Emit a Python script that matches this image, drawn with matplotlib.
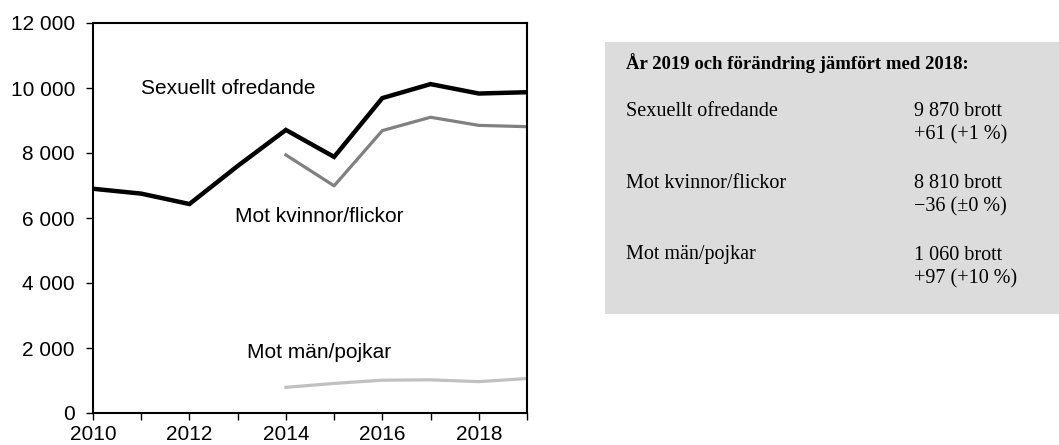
import matplotlib
matplotlib.use("Agg")

import matplotlib.pyplot as plt
from matplotlib.patches import Rectangle
from matplotlib.ticker import FuncFormatter

# ── 数据 ──
years = [2010, 2011, 2012, 2013, 2014, 2015, 2016, 2017, 2018, 2019]
total = [6900, 6750, 6430, 7600, 8710, 7880, 9690, 10120, 9830, 9870]
years_sub = [2014, 2015, 2016, 2017, 2018, 2019]
women = [7940, 6990, 8690, 9100, 8850, 8810]
men = [790, 910, 1010, 1020, 965, 1060]

box_title = "År 2019 och förändring jämfört med 2018:"
box_names = ["Sexuellt ofredande", "Mot kvinnor/flickor", "Mot män/pojkar"]
box_counts = ["9 870 brott", "8 810 brott", "1 060 brott"]
box_changes = ["+61 (+1 %)", "\u221236 (\u00b10 %)", "+97 (+10 %)"]

plt.rcParams["font.family"] = ["Liberation Sans", "DejaVu Sans"]

fig = plt.figure(figsize=(10.59, 4.45), dpi=100)
fig.patch.set_facecolor("white")
ax = fig.add_axes([93 / 1059, 1 - 413 / 445, 434 / 1059, 390 / 445])

ax.plot(years, total, color="black", linewidth=3.2, solid_joinstyle="miter")
ax.plot(years_sub, women, color="#808080", linewidth=2.3)
ax.plot(years_sub, men, color="#c0c0c0", linewidth=2.3)

ax.set_xlim(2010, 2019)
ax.set_ylim(0, 12000)
ax.set_xticks(years)
ax.set_xticklabels([str(y) if y % 2 == 0 else "" for y in years])
ax.set_yticks(range(0, 12001, 2000))
ax.yaxis.set_major_formatter(FuncFormatter(lambda v, _: f"{int(v):,}".replace(",", " ")))
ax.tick_params(direction="out", length=5, width=1, labelsize=15)
ax.tick_params(axis="y", pad=8)
ax.tick_params(axis="x", pad=4)
for s in ax.spines.values():
    s.set_linewidth(1.5)

ax.text(2011, 10000, "Sexuellt ofredande", fontsize=15, va="center")
ax.text(2012.95, 6050, "Mot kvinnor/flickor", fontsize=15, va="center")
ax.text(2013.2, 1850, "Mot män/pojkar", fontsize=15, va="center")

# ── 右侧信息框 ──
fig.patches.append(Rectangle((605 / 1059, 1 - 314 / 445), 454 / 1059, 272 / 445,
                             transform=fig.transFigure, facecolor="#dcdcdc",
                             edgecolor="none"))
serif = ["Liberation Serif", "DejaVu Serif"]
fig.text(626 / 1059, 1 - 63 / 445, box_title, family=serif, fontsize=13.5,
         fontweight="bold", va="center")
for i, (nm, cnt, chg) in enumerate(zip(box_names, box_counts, box_changes)):
    y0 = 111 + i * 72
    fig.text(626 / 1059, 1 - y0 / 445, nm, family=serif, fontsize=14.5, va="center")
    fig.text(914 / 1059, 1 - y0 / 445, cnt, family=serif, fontsize=14.5, va="center")
    fig.text(914 / 1059, 1 - (y0 + 24) / 445, chg, family=serif, fontsize=14.5, va="center")

fig.savefig("out.png", dpi=100, facecolor="white")
